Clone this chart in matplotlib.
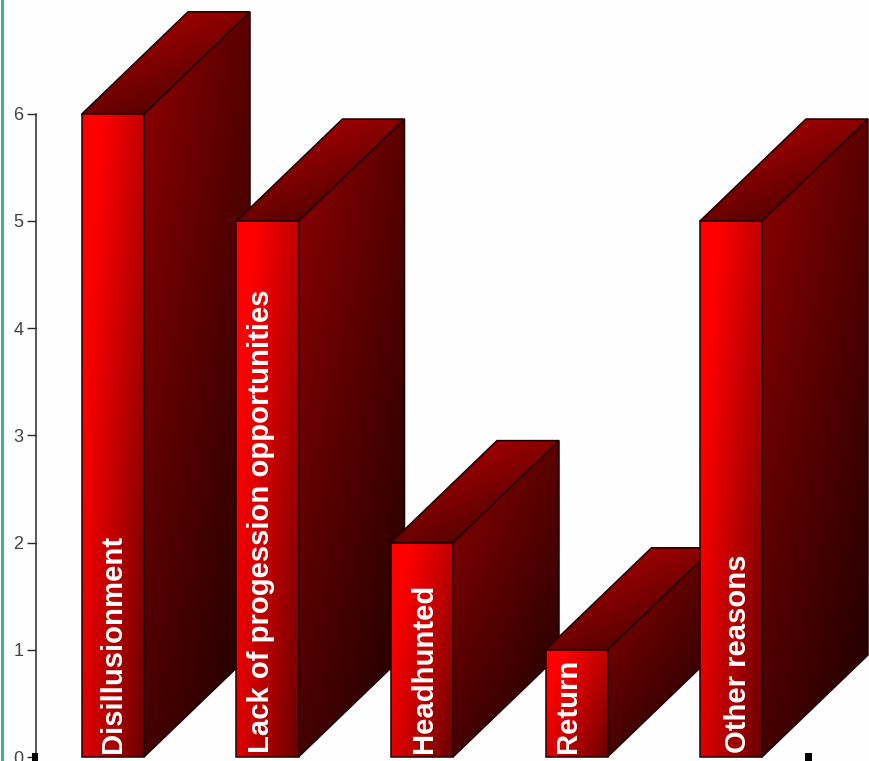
import matplotlib
matplotlib.use("Agg")
import matplotlib.pyplot as plt
from matplotlib.patches import Polygon, Rectangle
import numpy as np

reasons = ["Disillusionment", "Lack of progession opportunities", "Headhunted", "Return", "Other reasons"]
counts = [6, 5, 2, 1, 5]
y_ticks = [0, 1, 2, 3, 4, 5, 6]

# label nudges along x, in bar spacings
label_shift = [0.0, -0.04, 0.012, -0.052, 0.045]

plt.rcParams["font.family"] = ["Liberation Sans", "DejaVu Sans"]

W, H = 869, 761
px_x = 154.5      # pixels per category
px_y = 107.2      # pixels per count
x0_px = 113
y0_px = 757
bar_w = 62 / px_x
dx = 106 / px_x   # depth of the 3d box
dy = 102 / px_y


def shade(corners, n=120):
    # red channel from bilinear corners (top-left, top-right, bottom-left, bottom-right)
    tl, tr, bl, br = corners
    u = np.linspace(0, 1, n)[None, :]
    v = np.linspace(0, 1, n)[:, None]
    r = (tl * (1 - u) + tr * u) * (1 - v) + (bl * (1 - u) + br * u) * v
    img = np.zeros((n, n, 3))
    img[..., 0] = np.clip(r, 0, 255) / 255
    return img


def face(ax, pts, corners, z):
    pts = np.array(pts)
    ext = [pts[:, 0].min(), pts[:, 0].max(), pts[:, 1].min(), pts[:, 1].max()]
    im = ax.imshow(shade(corners), extent=ext, origin="upper", aspect="auto",
                   interpolation="bilinear", zorder=z)
    edge = Polygon(pts, closed=True, fill=False, ec="#1f0000", lw=1.1, zorder=z + 0.1)
    ax.add_patch(edge)
    im.set_clip_path(edge)


fig = plt.figure(figsize=(W / 100, H / 100), dpi=100, facecolor="#fefefe")
ax = fig.add_axes([0, 0, 1, 1], facecolor="#fefefe")

for i, (name, c) in enumerate(zip(reasons, counts)):
    z = 2 + i
    l = i - bar_w / 2
    r = i + bar_w / 2
    # side, top, front
    face(ax, [(r, 0), (r + dx, dy), (r + dx, c + dy), (r, c)], (145, 90, 70, 28), z)
    face(ax, [(l, c), (r, c), (r + dx, c + dy), (l + dx, c + dy)], (190, 136, 110, 56), z + 0.2)
    face(ax, [(l, 0), (r, 0), (r, c), (l, c)], (280, 195, 225, 105), z + 0.4)
    ax.text(i + label_shift[i], 4 / px_y, name, rotation=90, ha="center", va="bottom",
            color="white", fontsize=21.1, fontweight="bold", zorder=z + 0.6)

ax.set_xlim(-x0_px / px_x, (W - x0_px) / px_x)
ax.set_ylim(-(H - y0_px) / px_y, y0_px / px_y)

# y axis
for s in ["top", "right", "bottom"]:
    ax.spines[s].set_visible(False)
ax.spines["left"].set_position(("data", (36 - x0_px) / px_x))
ax.spines["left"].set_bounds(0, 6)
ax.spines["left"].set_color("#2b2b2b")
ax.spines["left"].set_linewidth(1.1)
ax.set_xticks([])
ax.set_yticks(y_ticks)
ax.tick_params(axis="y", length=6.5, width=1.0, color="#2b2b2b", pad=2.5,
               labelsize=13, labelcolor="#444444")

# green page rule and clipped marks along the bottom edge
fig.add_artist(Rectangle((1 / W, 0), 2.6 / W, 1, transform=fig.transFigure, fc="#47b083", ec="none"))
fig.add_artist(Rectangle((32 / W, 0), 6 / W, 8 / H, transform=fig.transFigure, fc="black", ec="none"))
fig.add_artist(Rectangle((805 / W, 0), 7 / W, 8 / H, transform=fig.transFigure, fc="black", ec="none"))

fig.savefig("out.png", dpi=100, facecolor=fig.get_facecolor())
